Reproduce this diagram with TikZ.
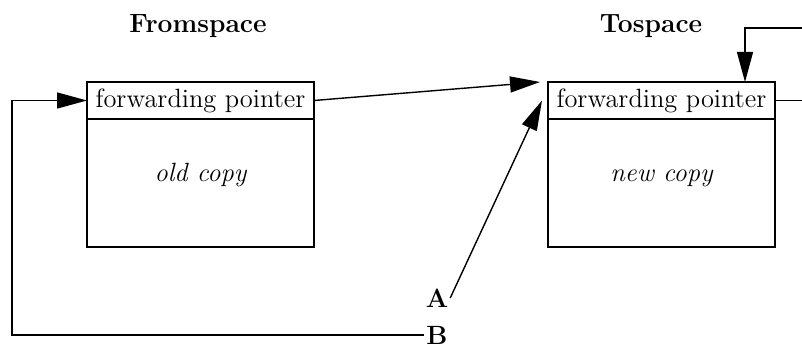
\documentclass[tikz,border=0pt]{standalone}
\usetikzlibrary{positioning}
\usetikzlibrary{arrows.meta}
\begin{document}
\begin{tikzpicture}[x=1pt,y=1pt,node distance=0pt,line width=0.7pt,
	every node/.style={inner sep=1,outer sep=0,font=\fontsize{13.2}{15}\selectfont},
	hdr/.style={draw,minimum width=113.5pt,minimum height=18.5pt},
	body/.style={draw,minimum width=113.5pt,minimum height=64pt,text height=9pt,text depth=10pt,font=\fontsize{13.2}{15}\selectfont\itshape},
	lbl/.style={font=\fontsize{13.2}{15}\selectfont\bfseries},
	>={Triangle[length=15pt,width=8pt]}]
	\useasboundingbox (0,0) rectangle (401,-173.5);
	\node[hdr] (fh) at (100.25,-50.25) {forwarding pointer};
	\node[body] (fb) [below=of fh] {old copy};
	\node[hdr] (th) [right=117pt of fh] {forwarding pointer};
	\node[body] (tb) [below=of th] {new copy};
	\node[lbl] (fs) at (99,-13) {Fromspace};
	\node[lbl] (ts) at (325.5,-13) {Tospace};
	\node[lbl] (a) at (218.5,-149) {A};
	\node[lbl] (b) at (218.5,-167.5) {B};
	\coordinate (in) at (401,-14);
	\coordinate (out) at (th.east -| in);
	\coordinate (left) at (6,0);
    \path[->]
        (fh.east) edge ([xshift=-4pt]th.north west)
        (a.east) edge ([xshift=-3pt]th.west);
	\draw[->] (in) -| ([xshift=-15pt]th.north east);
	\draw (th.east) -- (out);
	\draw[->] (b.west) -| (left |- fh.west) -- (fh.west);
\end{tikzpicture}
\end{document}
